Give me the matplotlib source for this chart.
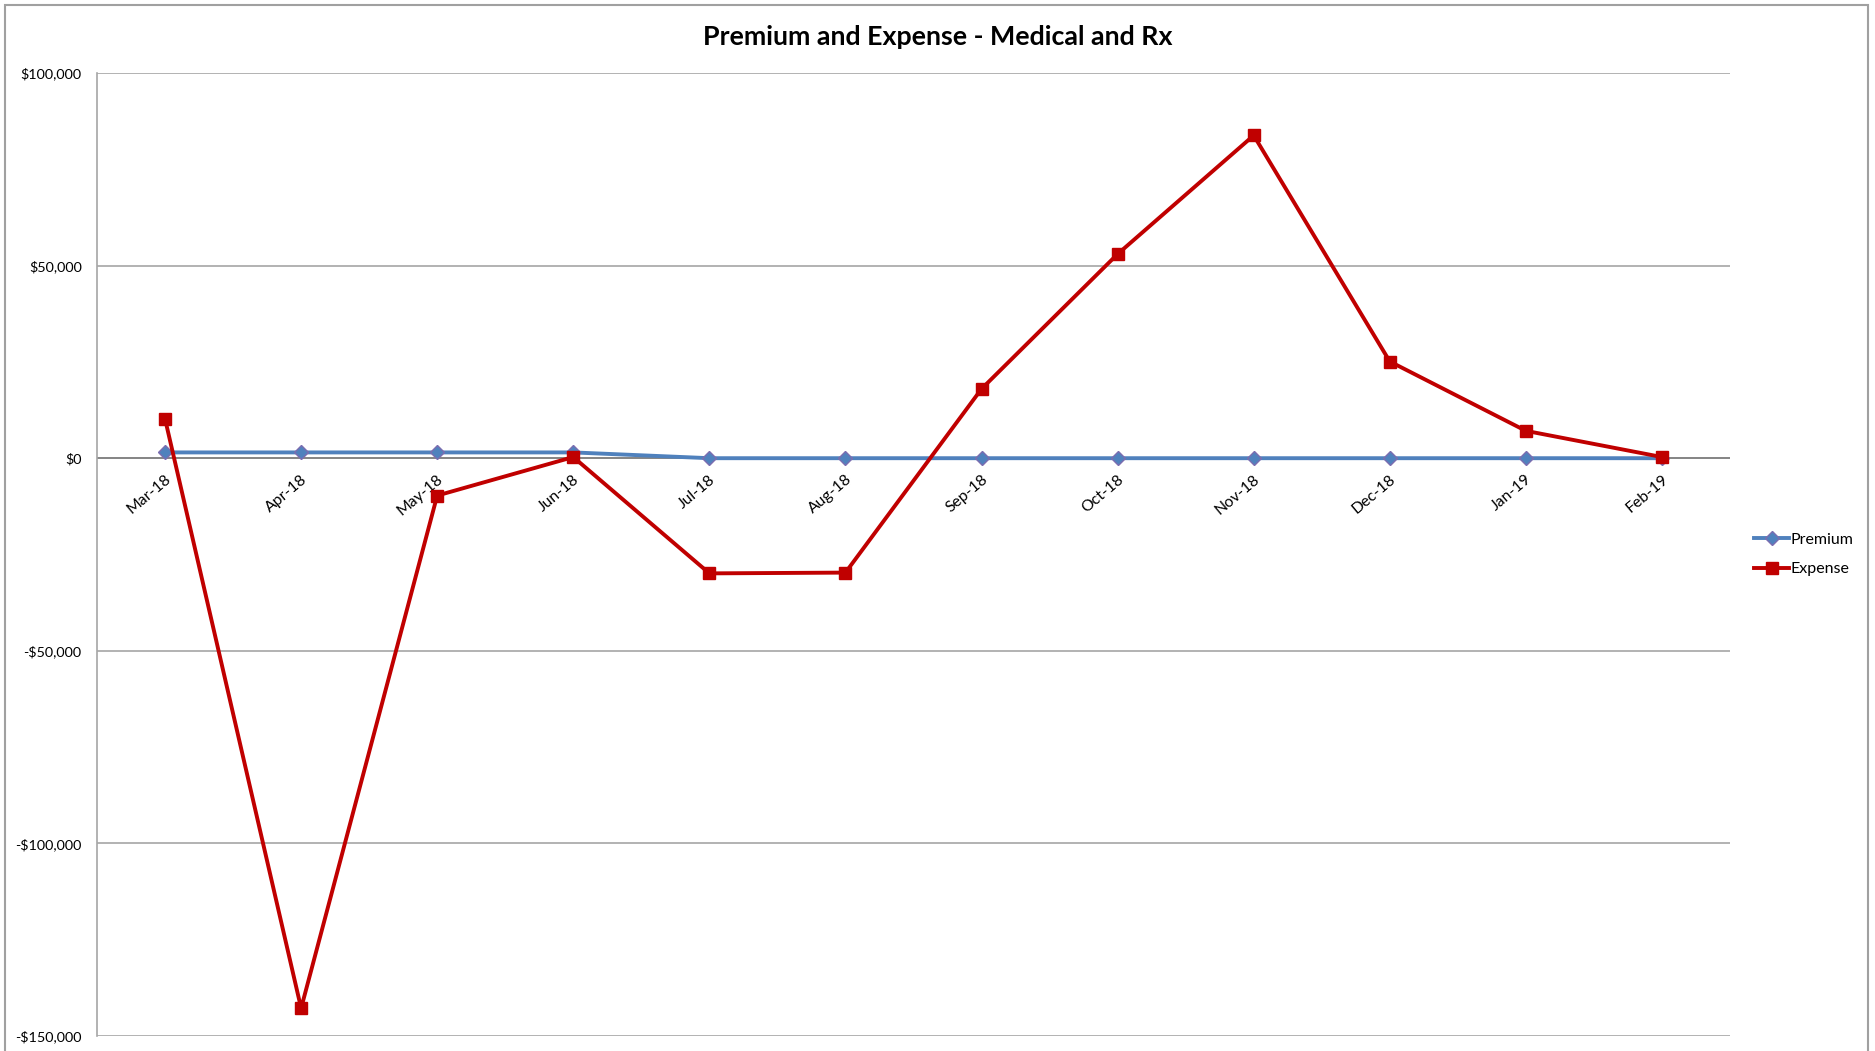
import matplotlib
matplotlib.use('Agg')
import matplotlib.pyplot as plt
from matplotlib.patches import Rectangle
from matplotlib.ticker import FuncFormatter
import numpy as np

plt.rcParams['font.family'] = ['Lato', 'DejaVu Sans']

months = ['Mar-18', 'Apr-18', 'May-18', 'Jun-18', 'Jul-18', 'Aug-18',
          'Sep-18', 'Oct-18', 'Nov-18', 'Dec-18', 'Jan-19', 'Feb-19']
premium = [1500, 1500, 1500, 1500, 0, 0, 0, 0, 0, 0, 0, 0]
expense = [10200, -142800, -9700, 300, -29900, -29700,
           18000, 53000, 83800, 25100, 7100, 300]
yticks = [-150000, -100000, -50000, 0, 50000, 100000]

fig = plt.figure(figsize=(18.75, 10.51), dpi=100)
# outer chart border
fig.patches.append(Rectangle((5/1875, -0.01), 1863/1875, 1.01 - 5/1051, transform=fig.transFigure,
                             fill=False, edgecolor='#a0a0a0', linewidth=1.5))

ax = fig.add_axes([97/1875, 1 - 1036/1051, (1730-97)/1875, (1036-73)/1051])
x = np.arange(len(months))

ax.plot(x, premium, color='#4F81BD', linewidth=2.8, marker='D', markersize=7,
        markerfacecolor='#4F81BD', markeredgecolor='#7B6DB0', markeredgewidth=1,
        label='Premium', zorder=3)
ax.plot(x, expense, color='#C00000', linewidth=2.8, marker='s', markersize=9,
        markerfacecolor='#C00000', markeredgecolor='#C00000',
        label='Expense', zorder=4)

ax.set_xlim(-0.5, 11.5)
ax.set_ylim(-150000, 100000)
ax.set_yticks(yticks)
ax.yaxis.set_major_formatter(FuncFormatter(lambda v, p: ('-$' if v < 0 else '$') + f'{abs(v):,.0f}'))
ax.grid(axis='y', color='#a6a6a6', linewidth=1.2)
ax.set_axisbelow(True)
ax.axhline(0, color='#868686', linewidth=1.4, zorder=2)

for s in ['top', 'right', 'bottom']:
    ax.spines[s].set_visible(False)
ax.spines['left'].set_color('#a6a6a6')
ax.spines['left'].set_linewidth(1.2)

ax.set_xticks(x)
ax.set_xticklabels([])
ax.tick_params(axis='x', length=0)
ax.tick_params(axis='y', length=0, labelsize=10.4, pad=11)
for i, m in enumerate(months):
    ax.annotate(m, xy=(i, 0), xytext=(3, -14), textcoords='offset points',
                rotation=40, ha='right', va='center', rotation_mode='anchor', fontsize=11.3)

fig.text(0.5, 1 - 37/1051, 'Premium and Expense - Medical and Rx', ha='center', va='center',
         fontsize=19.3, fontweight='bold')

ax.legend(loc='center left', bbox_to_anchor=(1.006, 0.5), frameon=False, fontsize=11.5,
          handlelength=2.2, handletextpad=0.1, labelspacing=0.95)

fig.savefig('out.png', dpi=100)
